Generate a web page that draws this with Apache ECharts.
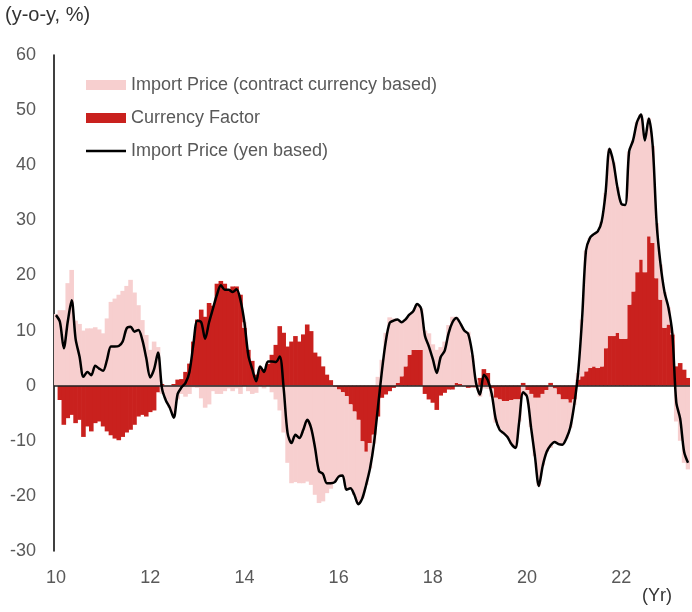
<!DOCTYPE html>
<html>
<head>
<meta charset="utf-8">
<script src="https://cdn.jsdelivr.net/npm/echarts@6/dist/echarts.min.js"></script>
<style>
  html, body { margin: 0; padding: 0; background: #fff; }
  #main { width: 692px; height: 612px; }
</style>
</head>
<body>
<div id="main"></div>
<script>
// monthly, 2010/01 - 2023/06
var months = [];
for (var y = 2010; y <= 2023; y++) {
  for (var m = 1; m <= 12; m++) {
    if (y === 2023 && m > 6) break;
    months.push(y + '/' + (m < 10 ? '0' + m : m));
  }
}
var yearTicks = ['10', '12', '14', '16', '18', '20', '22'];

// Import Price (contract currency based)
var contractBased = [
  13.0, 13.7, 13.7, 18.6, 21.0, 11.8, 11.2, 10.0, 10.4, 10.4, 10.6, 10.2,
  9.5, 12.2, 15.2, 15.8, 16.5, 17.2, 18.1, 19.2, 16.9, 14.6, 11.9, 9.2,
  6.5, 8.0, 7.0, -1.5, -2.5, -4.0, -5.5, -2.5, -1.5, -2.0, -1.5, -0.3,
  -0.4, -2.3, -4.0, -3.4, -1.0, -1.5, -1.5, -1.0, -0.5, -1.0, -0.5, -1.5,
  1.0, -1.0, -1.5, -1.3, 0.5, -0.5, 0.4, -1.2, -2.5, -4.5, -8.5, -14.0,
  -17.7, -17.5, -17.7, -17.7, -17.4, -18.0, -19.8, -21.3, -21.0, -19.5, -18.7, -17.3,
  -15.8, -15.1, -17.0, -15.2, -15.1, -15.3, -10.4, -6.0, -4.6, -1.6, 1.6, 4.7,
  9.6, 12.4, 12.2, 11.5, 9.8, 8.5, 7.3, 7.0, 8.3, 7.5, 10.0, 9.5,
  7.5, 6.5, 7.0, 8.0, 11.0, 12.5, 12.0, 10.8, 10.0, 9.8, 5.5, 1.0,
  -2.0, -0.5, -0.6, -1.5, -4.5, -5.2, -6.0, -6.5, -8.0, -8.8, -4.0, -1.8,
  -1.0, -6.0, -10.6, -16.0, -13.0, -11.2, -11.3, -9.7, -9.0, -8.2, -7.1, -4.5,
  -1.0, 1.2, 10.3, 21.9, 23.6, 24.0, 24.8, 26.3, 28.2, 34.0, 31.5, 26.4,
  24.5, 24.3, 27.8, 27.4, 27.2, 26.3, 23.9, 21.4, 17.6, 10.0, 6.4, 6.5,
  3.1, 0.2, -6.5, -10.0, -14.0, -15.2
];

// Currency Factor
var currencyFactor = [
  0, -2.6, -7.1, -5.9, -5.3, -6.8, -6.2, -9.3, -7.4, -8.3, -6.8, -6.5,
  -7.4, -8.3, -9.0, -9.6, -9.9, -9.3, -8.5, -8.0, -7.1, -5.6, -5.3, -5.6,
  -4.8, -4.5, -1.2, 0.3, 0, 0, 0.3, 1.1, 1.2, 2.5, 4.0, 8.0,
  12.0, 13.8, 12.5, 15.0, 14.5, 18.5, 19.0, 18.5, 17.5, 18.0, 18.0, 16.5,
  10.5, 6.5, 4.5, 2.0, 3.0, 3.0, 4.0, 5.6, 7.4, 10.8, 9.6, 7.1,
  8.0, 9.0, 8.0, 9.3, 11.1, 9.9, 6.0, 5.3, 3.5, 2.0, 1.0, -0.2,
  -0.7, -1.2, -1.9, -3.4, -4.7, -6.2, -10.1, -12.0, -10.4, -8.9, -5.6, -2.2,
  -1.6, -1.0, -0.4, 0.5, 1.7, 3.5, 5.6, 6.5, 6.5, 6.5, -1.5, -2.5,
  -3.1, -4.4, -1.8, -1.3, -0.7, -0.7, 0.5, 0.3, -0.1, -0.4, -0.3, -0.3,
  1.4, 3.0, 2.3, -0.5, -2.2, -2.5, -2.8, -2.8, -2.6, -2.5, -2.5, 0.5,
  -0.8, -1.5, -2.2, -2.2, -1.5, -0.8, 0.5, -0.5, -1.6, -2.5, -2.5, -3.1,
  -2.5, 1.1, 1.7, 2.6, 3.2, 3.5, 3.2, 3.5, 6.8, 9.0, 9.0, 9.6,
  8.5, 8.5, 14.7, 17.1, 20.6, 22.9, 20.6, 27.1, 25.9, 19.5, 15.6, 10.5,
  11.1, 9.3, 3.5, 4.1, 2.9, 1.4
];

// Import Price (yen based)
var yenBased = [
  12.8, 11.6, 6.8, 11.6, 15.5, 8.5, 5.3, 1.6, 2.5, 1.9, 3.6, 3.1,
  2.7, 4.7, 7.1, 7.1, 7.2, 8.0, 10.4, 10.7, 9.8, 10.1, 8.3, 5.0,
  1.5, 3.0, 6.0, -0.5, -2.7, -4.0, -5.8, -1.5, -0.3, 0.5, 2.5, 7.5,
  11.8, 11.5, 8.5, 11.5, 14.0, 16.5, 18.2, 17.4, 17.4, 17.0, 17.5, 15.5,
  11.5, 5.5, 3.0, 0.8, 3.5, 2.5, 4.4, 4.4, 4.3, 5.3, -0.5, -8.6,
  -10.4, -8.9, -9.5, -8.0, -6.2, -7.7, -11.3, -15.5, -16.0, -17.7, -17.7, -17.5,
  -16.5, -16.3, -18.9, -18.6, -19.8, -21.5, -20.5, -18.0, -15.0, -10.5, -4.0, 2.5,
  8.0, 11.4, 11.8, 12.0, 11.5, 12.0, 12.9, 13.5, 14.8, 14.0, 9.0, 7.1,
  4.8, 2.3, 5.2, 6.3, 9.5, 11.5, 12.3, 11.3, 10.0, 9.4, 6.0, 0.5,
  -1.6, 2.0, 1.0, -1.5, -6.0, -8.0, -8.6, -9.3, -10.6, -11.3, -6.5, -1.2,
  -2.0, -7.5, -12.8, -18.2, -14.5, -12.0, -10.8, -10.2, -10.6, -10.7, -9.6, -7.6,
  -3.5, 2.3, 12.0, 24.5, 26.8, 27.5, 28.0, 29.8, 35.0, 43.0, 40.5, 36.0,
  33.0, 32.8, 42.5, 44.5, 47.8, 49.2, 44.5, 48.5, 43.5, 29.5, 22.0, 17.0,
  14.2, 9.5, -3.0, -6.0, -12.0, -14.0
];

var FONT = 'Liberation Sans, Arial, sans-serif';
var chart = echarts.init(document.getElementById('main'));

chart.setOption({
  animation: false,
  backgroundColor: '#fff',
  textStyle: { fontFamily: FONT },
  grid: { left: 54, right: 2, top: 55, bottom: 61 },
  graphic: [
    { type: 'text', left: 5, top: 5,
      style: { text: '(y-o-y, %)', fill: '#333', font: '20px ' + FONT } },
    { type: 'text', left: 642, top: 587,
      style: { text: '(Yr)', fill: '#333', font: '18px ' + FONT } }
  ],
  legend: {
    orient: 'vertical',
    left: 81,
    top: 71,
    itemWidth: 40,
    itemHeight: 10,
    itemGap: 15,
    textStyle: { color: '#595959', fontSize: 18, fontFamily: FONT },
    data: [
      { name: 'Import Price (contract currency based)', icon: 'rect' },
      { name: 'Currency Factor', icon: 'rect' },
      // plain black stroke, no marker
      { name: 'Import Price (yen based)', icon: 'path://M0,0H40V2.6H0Z' }
    ]
  },
  xAxis: {
    type: 'category',
    data: months,
    boundaryGap: true,
    axisLine: { show: false },
    axisTick: { show: false },
    splitLine: { show: false },
    axisLabel: {
      interval: function (idx) { return idx % 24 === 0; },
      formatter: function (val, idx) { return yearTicks[idx / 24]; },
      color: '#595959',
      fontSize: 18,
      fontFamily: FONT,
      margin: 18
    }
  },
  yAxis: {
    type: 'value',
    min: -30,
    max: 60,
    interval: 10,
    axisLine: { show: true, lineStyle: { color: '#000', width: 1.5 } },
    axisTick: { show: false },
    splitLine: { show: false },
    axisLabel: { color: '#595959', fontSize: 18, fontFamily: FONT, margin: 18 }
  },
  series: [
    {
      name: 'Currency Factor',
      type: 'bar',
      stack: 'total',
      barWidth: 4.6,   // a bit wider than a month slot so no seams show
      data: currencyFactor,
      itemStyle: { color: '#C9211E' }
    },
    {
      name: 'Import Price (contract currency based)',
      type: 'bar',
      stack: 'total',
      barWidth: 4.6,
      data: contractBased,
      itemStyle: { color: '#F7CFCF' }
    },
    {
      name: 'Import Price (yen based)',
      type: 'line',
      data: yenBased,
      symbol: 'none',
      smooth: 0.3,
      lineStyle: { color: '#000', width: 2.5 },
      itemStyle: { color: '#000' },
      z: 5,
      markLine: {
        silent: true,
        symbol: ['none', 'none'],
        label: { show: false },
        lineStyle: { color: '#222', width: 1.5, type: 'solid' },
        data: [{ yAxis: 0 }]
      }
    }
  ]
});
</script>
</body>
</html>
